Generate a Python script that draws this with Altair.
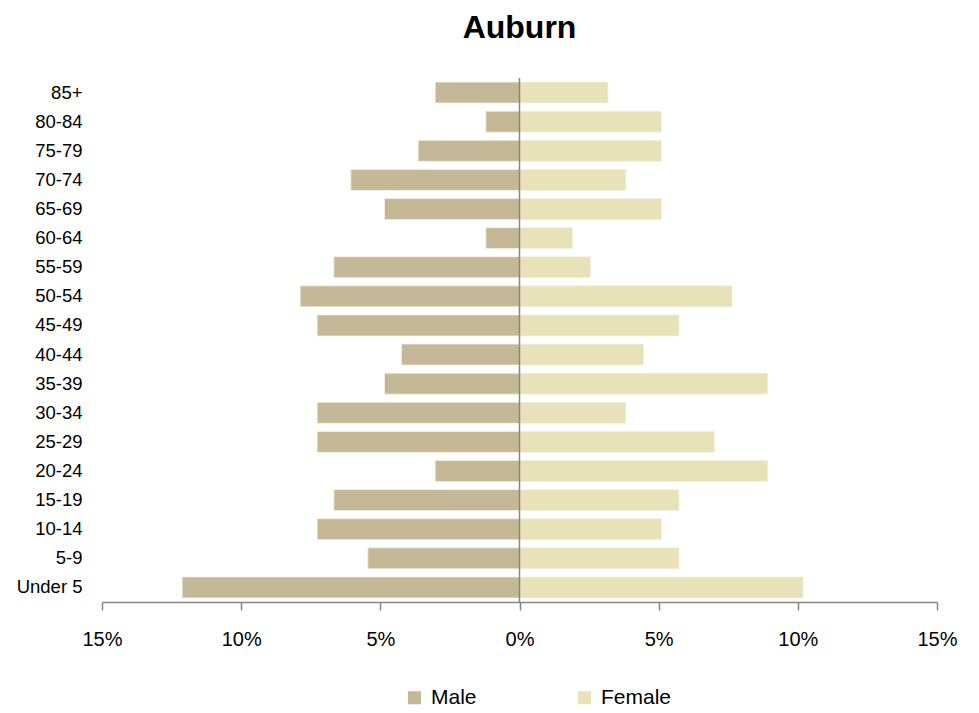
import altair as alt
import pandas as pd

ages = ["85+", "80-84", "75-79", "70-74", "65-69", "60-64", "55-59", "50-54",
        "45-49", "40-44", "35-39", "30-34", "25-29", "20-24", "15-19", "10-14",
        "5-9", "Under 5"]
male = [3.03, 1.21, 3.64, 6.06, 4.85, 1.21, 6.67, 7.88, 7.27, 4.24, 4.85,
        7.27, 7.27, 3.03, 6.67, 7.27, 5.45, 12.12]
female = [3.18, 5.10, 5.10, 3.82, 5.10, 1.91, 2.55, 7.64, 5.73, 4.46, 8.92,
          3.82, 7.01, 8.92, 5.73, 5.10, 5.73, 10.19]

rows = []
for a, m, f in zip(ages, male, female):
    rows.append({"age": a, "sex": "Male", "value": -m})
    rows.append({"age": a, "sex": "Female", "value": f})
df = pd.DataFrame(rows)

FONT = "Liberation Sans"

bars = alt.Chart(df).mark_bar(stroke="#F4F0E0", strokeWidth=0.8).encode(
    y=alt.Y("age:N", sort=ages, title=None,
            scale=alt.Scale(paddingInner=0.28, paddingOuter=0.14),
            axis=alt.Axis(domain=False, ticks=False, labelPadding=20,
                          labelFontSize=18.5, labelFont=FONT, labelColor="#000000")),
    x=alt.X("value:Q", title=None,
            scale=alt.Scale(domain=[-15, 15], nice=False),
            axis=alt.Axis(values=[-15, -10, -5, 0, 5, 10, 15],
                          labelExpr="abs(datum.value) + '%'",
                          labelFlush=False, labelOverlap=False,
                          grid=False, domainColor="#868686", domainWidth=1.5,
                          tickColor="#868686", tickWidth=1.5, tickSize=8,
                          labelFontSize=20, labelFont=FONT, labelColor="#000000",
                          labelPadding=19)),
    color=alt.Color("sex:N", sort=["Male", "Female"],
                    scale=alt.Scale(domain=["Male", "Female"],
                                    range=["#C4B896", "#E8E2B8"]),
                    legend=alt.Legend(title=None, orient="none", direction="horizontal",
                                      legendX=302, legendY=609,
                                      symbolType="square", symbolSize=170,
                                      symbolStrokeWidth=0,
                                      labelFontSize=21, labelFont=FONT,
                                      labelColor="#000000", columnPadding=97,
                                      labelOffset=6)),
)

zero = alt.Chart(pd.DataFrame({"x": [0]})).mark_rule(color="#868686", strokeWidth=1.5).encode(
    x="x:Q"
)

chart = alt.layer(bars, zero).properties(
    width=835, height=524,
    title=alt.TitleParams("Auburn", fontSize=32, font=FONT, fontWeight="bold",
                          anchor="middle", offset=32, color="#000000"),
    autosize=alt.AutoSizeParams(type="none"),
    padding={"left": 94, "top": 70, "right": 30, "bottom": 110},
).configure_view(stroke=None)

chart.save("out.html", embed_options={"renderer": "svg", "actions": False})
